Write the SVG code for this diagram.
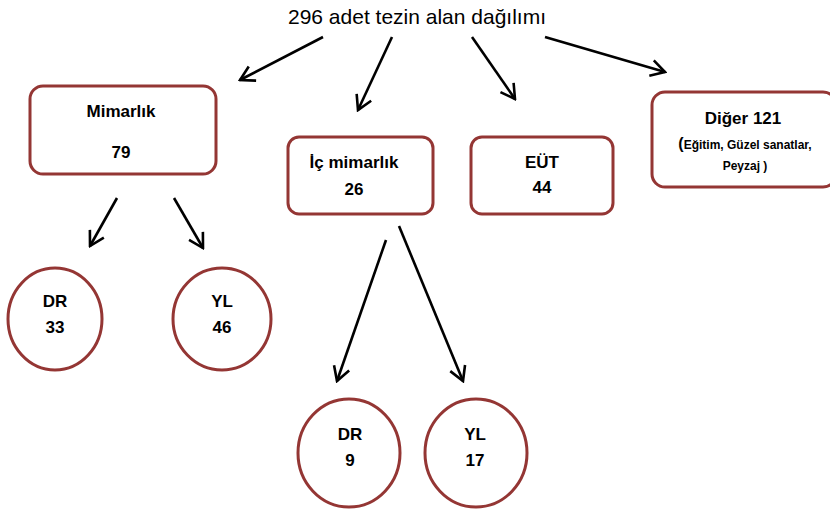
<svg xmlns="http://www.w3.org/2000/svg" width="830" height="510" viewBox="0 0 830 510">
<defs>
<marker id="arr" viewBox="0 0 20 20" refX="18" refY="10" markerWidth="20" markerHeight="20" markerUnits="userSpaceOnUse" orient="auto">
<path d="M4,2 L18,10 L4,18" fill="none" stroke="#000" stroke-width="2.6" stroke-linejoin="miter"/>
</marker>
<style>
.box{fill:#fff;stroke:#943634;stroke-width:3}
.t{font-family:"Liberation Sans",Arial,sans-serif;font-weight:bold;font-size:17px;fill:#000;text-anchor:middle}
.s{font-family:"Liberation Sans",Arial,sans-serif;font-weight:bold;font-size:12px;fill:#000;text-anchor:middle}
.title{font-family:"Liberation Sans",Arial,sans-serif;font-size:21px;fill:#000;text-anchor:middle}
.c line{stroke:#000;stroke-width:2.6;marker-end:url(#arr)}
</style>
</defs>
<rect width="830" height="510" fill="#fff"/>
<g id="title"><text class="title" x="417" y="24">296 adet tezin alan dağılımı</text></g>
<g id="mimarlik"><rect class="box" x="30" y="86" width="186" height="88" rx="13"/><text class="t" x="121" y="117">Mimarlık</text><text class="t" x="121" y="158">79</text></g>
<g id="icmimarlik"><rect class="box" x="288" y="137" width="145" height="77" rx="11"/><text class="t" x="354" y="168">İç mimarlık</text><text class="t" x="354" y="195">26</text></g>
<g id="eut"><rect class="box" x="471" y="137" width="142" height="77" rx="11"/><text class="t" x="542" y="168">EÜT</text><text class="t" x="542" y="193">44</text></g>
<g id="diger"><rect class="box" x="652" y="92" width="184" height="95" rx="13"/><text class="t" x="743" y="124">Diğer 121</text><text class="s" x="745" y="149"><tspan font-size="16">(</tspan>Eğitim, Güzel sanatlar,</text><text class="s" x="745" y="170">Peyzaj )</text></g>
<g id="dr33"><ellipse class="box" cx="55" cy="319" rx="47" ry="51"/><text class="t" x="55" y="307">DR</text><text class="t" x="55" y="333">33</text></g>
<g id="yl46"><ellipse class="box" cx="222" cy="319" rx="49" ry="51"/><text class="t" x="222" y="307">YL</text><text class="t" x="222" y="333">46</text></g>
<g id="dr9"><ellipse class="box" cx="349" cy="453" rx="51" ry="54"/><text class="t" x="350" y="440">DR</text><text class="t" x="350" y="466">9</text></g>
<g id="yl17"><ellipse class="box" cx="476" cy="453" rx="51" ry="54"/><text class="t" x="475" y="440">YL</text><text class="t" x="475" y="466">17</text></g>
<g id="connectors" class="c">
<line x1="323" y1="37" x2="240" y2="80"/>
<line x1="392" y1="37" x2="358" y2="110"/>
<line x1="472" y1="37" x2="515" y2="99"/>
<line x1="545" y1="37" x2="665" y2="72"/>
<line x1="117" y1="198" x2="90" y2="246"/>
<line x1="174" y1="198" x2="203" y2="248"/>
<line x1="386" y1="240" x2="337" y2="381"/>
<line x1="399" y1="226" x2="463" y2="381"/>
</g>
</svg>
